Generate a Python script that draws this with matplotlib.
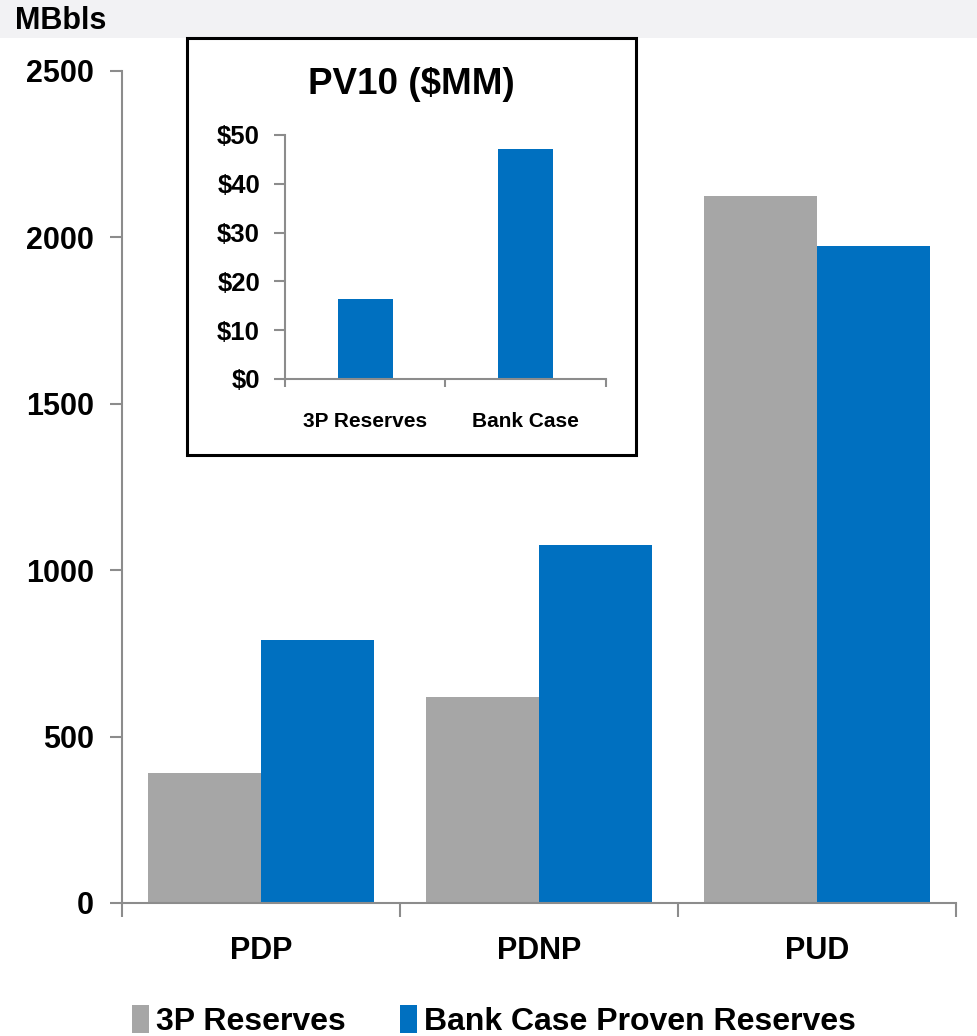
import matplotlib
matplotlib.use("Agg")
import matplotlib.pyplot as plt
from matplotlib.patches import Rectangle, Patch
import numpy as np

# data
categories = ["PDP", "PDNP", "PUD"]
reserves_3p = [390, 620, 2125]
bank_case = [790, 1075, 1975]

pv10_labels = ["3P Reserves", "Bank Case"]
pv10_values = [16.4, 47.2]

GRAY = "#a6a6a6"
BLUE = "#0070c0"
SPINE = "#8c8c8c"

plt.rcParams["font.family"] = ["Liberation Sans", "DejaVu Sans"]
plt.rcParams["font.weight"] = "bold"

W, H = 978, 1036
fig = plt.figure(figsize=(W / 100, H / 100), dpi=100)


def fx(px):
    return px / W


def fy(py):
    return 1 - py / H


# light band across the top
fig.patches.append(Rectangle((0, fy(38)), 1, 1 - fy(38), transform=fig.transFigure,
                             facecolor="#f2f2f4", edgecolor="none", zorder=0))
fig.text(fx(15), fy(21), "MBbls", fontsize=22, fontweight="bold", va="center", ha="left")

# main chart
ax = fig.add_axes([fx(122), fy(903), fx(956) - fx(122), fy(71) - fy(903)])
x = np.arange(len(categories))
w = 0.408
ax.bar(x - w / 2, reserves_3p, width=w, color=GRAY, label="3P Reserves", zorder=2)
ax.bar(x + w / 2, bank_case, width=w, color=BLUE, label="Bank Case Proven Reserves", zorder=2)
ax.set_xlim(-0.5, 2.5)
ax.set_ylim(0, 2500)
ax.set_yticks([0, 500, 1000, 1500, 2000, 2500])
ax.set_xticks(x)
ax.set_xticklabels(categories)
ax.set_xticks([-0.5, 0.5, 1.5, 2.5], minor=True)
ax.tick_params(axis="x", which="major", length=0, pad=24, labelsize=22)
ax.tick_params(axis="x", which="minor", length=10, width=1.5, color=SPINE, direction="out")
ax.tick_params(axis="y", length=9, width=1.5, color=SPINE, pad=11, labelsize=22)
for t in ax.get_xticklabels() + ax.get_yticklabels():
    t.set_fontweight("bold")
for s in ["top", "right"]:
    ax.spines[s].set_visible(False)
for s in ["left", "bottom"]:
    ax.spines[s].set_color(SPINE)
    ax.spines[s].set_linewidth(1.5)

# legend at the bottom
handles = [Patch(facecolor=GRAY, edgecolor="none"), Patch(facecolor=BLUE, edgecolor="none")]
fig.legend(handles, ["3P Reserves", "Bank Case Proven Reserves"], loc="center",
           bbox_to_anchor=(fx(494), fy(1021)), ncol=2, frameon=False,
           prop={"size": 23, "weight": "bold"}, handlelength=0.53, handleheight=0.95,
           handletextpad=0.22, columnspacing=1.72, borderpad=0)

# inset box
fig.patches.append(Rectangle((fx(187), fy(455)), fx(636) - fx(187), fy(38) - fy(455),
                             transform=fig.transFigure, facecolor="white",
                             edgecolor="black", linewidth=2.2, zorder=1))
fig.text(fx(411), fy(84), "PV10 ($MM)", fontsize=26.5, fontweight="bold",
         ha="center", va="center", zorder=3)

ax2 = fig.add_axes([fx(285), fy(379), fx(606) - fx(285), fy(135) - fy(379)])
ax2.set_zorder(3)
ax2.patch.set_alpha(0)
x2 = np.arange(len(pv10_labels))
ax2.bar(x2, pv10_values, width=0.34, color=BLUE, zorder=2)
ax2.set_xlim(-0.5, 1.5)
ax2.set_ylim(0, 50)
ax2.set_yticks([0, 10, 20, 30, 40, 50])
ax2.set_yticklabels(["$0", "$10", "$20", "$30", "$40", "$50"])
ax2.set_xticks(x2)
ax2.set_xticklabels(pv10_labels)
ax2.set_xticks([-0.5, 0.5, 1.5], minor=True)
ax2.tick_params(axis="x", which="major", length=0, pad=24, labelsize=15)
ax2.tick_params(axis="x", which="minor", length=6, width=1.5, color=SPINE, direction="out")
ax2.tick_params(axis="y", length=8, width=1.5, color=SPINE, pad=10, labelsize=18.5)
for t in ax2.get_xticklabels() + ax2.get_yticklabels():
    t.set_fontweight("bold")
for s in ["top", "right"]:
    ax2.spines[s].set_visible(False)
for s in ["left", "bottom"]:
    ax2.spines[s].set_color(SPINE)
    ax2.spines[s].set_linewidth(1.5)

fig.savefig("out.png", dpi=100)
